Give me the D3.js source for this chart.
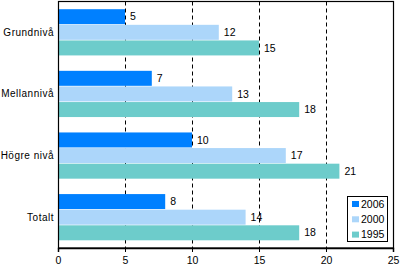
<!DOCTYPE html>
<html><head><meta charset="utf-8">
<script src="https://cdn.jsdelivr.net/npm/d3@7/dist/d3.min.js"></script>
<style>body{margin:0;background:#fff}svg{display:block;font-family:"Liberation Sans",Arial,sans-serif}</style>
</head><body><svg id="c" width="400" height="268"></svg>
<script>
const categories = ["Grundnivå", "Mellannivå", "Högre nivå", "Totalt"];
const seriesNames = ["2006", "2000", "1995"];
const values2006 = [5, 7, 10, 8];
const values2000 = [12, 13, 17, 14];
const values1995 = [15, 18, 21, 18];
const tickValues = [0, 5, 10, 15, 20, 25];
const colors = ["#0080ff", "#acd6fa", "#6dcccb"];

const seriesValues = [values2006, values2000, values1995];
const svg = d3.select("#c");
const L = 58, R = 393, T = 1.5, B = 248;
const x = d3.scaleLinear().domain([0, 25]).range([L, R]);
const y = d3.scaleBand().domain(categories).range([T, B]).paddingInner(0.25).paddingOuter(0.125);
const ys = d3.scaleBand().domain(seriesNames).range([0, y.bandwidth()]).paddingInner(0.04);

// grid
svg.append("g").selectAll("line").data(tickValues.filter(d => d > 0 && d < 25)).join("line")
  .attr("x1", d => Math.round(x(d)) + 0.5).attr("x2", d => Math.round(x(d)) + 0.5)
  .attr("y1", T).attr("y2", B)
  .attr("stroke", "#000").attr("stroke-dasharray", "4,3").attr("stroke-width", 1);

// bars
categories.forEach((c, ci) => {
  const g = svg.append("g");
  seriesNames.forEach((s, si) => {
    const v = seriesValues[si][ci];
    const yy = y(c) + ys(s);
    g.append("rect").attr("x", x(0)).attr("y", yy).attr("width", x(v) - x(0)).attr("height", ys.bandwidth())
      .attr("fill", colors[si]);
    g.append("text").attr("x", x(v) + 5).attr("y", yy + ys.bandwidth() / 2).attr("dy", "0.35em")
      .attr("font-size", 10.5).attr("fill", "#000").text(v);
  });
  svg.append("text").attr("x", 54).attr("y", y(c) + y.bandwidth() / 2).attr("dy", "0.35em")
    .attr("text-anchor", "end").attr("font-size", 10).attr("letter-spacing", "0.5px").text(c);
});

// frame
svg.append("rect").attr("x", L + 0.5).attr("y", T).attr("width", R - L).attr("height", B - T)
  .attr("fill", "none").attr("stroke", "#000").attr("stroke-width", 1.2);

// x axis
const ax = svg.append("g").attr("transform", `translate(0,${B})`)
  .call(d3.axisBottom(x).tickValues(tickValues).tickSize(4).tickPadding(5).tickFormat(d3.format("d")));
ax.select(".domain").attr("stroke-width", 1.5);
ax.selectAll("text").attr("font-size", 10.5).attr("font-family", "Liberation Sans, Arial, sans-serif");

// legend
const lg = svg.append("g").attr("transform", "translate(347,196)");
lg.append("rect").attr("x", 0.5).attr("y", 0.5).attr("width", 40).attr("height", 45)
  .attr("fill", "#fff").attr("stroke", "#000").attr("stroke-width", 1);
seriesNames.forEach((s, i) => {
  lg.append("rect").attr("x", 5).attr("y", 5 + i * 15.3).attr("width", 7).attr("height", 6).attr("fill", colors[i]);
  lg.append("text").attr("x", 14).attr("y", 8 + i * 15.3).attr("dy", "0.35em").attr("font-size", 10.5).text(s);
});
</script></body></html>
